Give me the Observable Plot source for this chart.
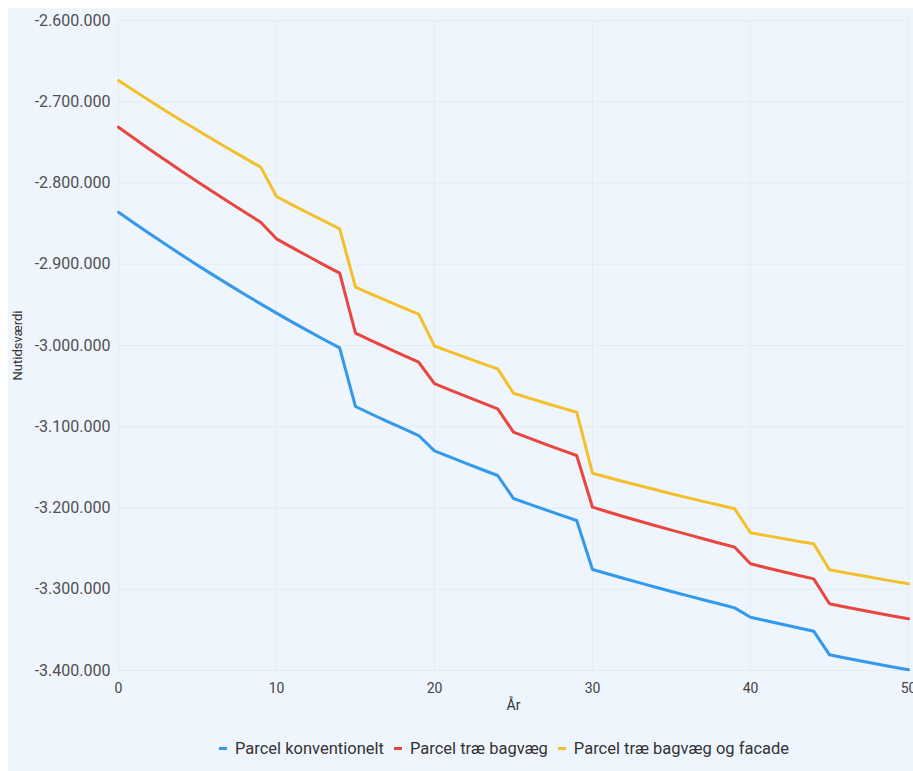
<!DOCTYPE html>
<html>
<head>
<meta charset="utf-8">
<script src="https://cdn.jsdelivr.net/npm/d3@7"></script>
<script src="https://cdn.jsdelivr.net/npm/@observablehq/plot@0.6"></script>
<style>
  html, body { margin: 0; padding: 0; background: #ffffff; }
  #panel {
    position: absolute; left: 8px; top: 8px; width: 905px; height: 763px;
    background: #eef5fc; overflow: hidden;
    font-family: Roboto, "Noto Sans", sans-serif;
  }
  #chart { position: absolute; left: 0; top: 0; }
  #legend {
    position: absolute; top: 731px; left: 496px; transform: translateX(-50%);
    display: flex; align-items: center; white-space: nowrap;
    font-size: 16.5px; color: #333;
  }
  #legend .item { display: flex; align-items: center; margin: 0 5px; }
  #legend .swatch { width: 8px; height: 3px; margin-right: 8px; }
</style>
</head>
<body>
<div id="panel">
  <div id="chart"></div>
  <div id="legend"></div>
</div>
<script>
// Years on the horizontal axis
const years = d3.range(0, 51);

// Series names and colours
const seriesNames = ["Parcel konventionelt", "Parcel træ bagvæg", "Parcel træ bagvæg og facade"];
const seriesColors = ["#3399ec", "#e8463f", "#f3c02b"];

// Net present value (DKK) per year, one array per building variant
const konventionelt = [
  -2836000, -2849500, -2862800, -2875800, -2888600, -2901100, -2913400, -2925400, -2937200, -2948800,
  -2960100, -2971200, -2982000, -2992600, -3002900, -3075100, -3084300, -3093300, -3102100, -3110800,
  -3129600, -3137500, -3145100, -3152600, -3160000, -3188300, -3195300, -3202100, -3208800, -3215400,
  -3275700, -3281300, -3286800, -3292200, -3297500, -3302700, -3307800, -3312900, -3317900, -3322900,
  -3334400, -3338800, -3343100, -3347400, -3351600, -3380700, -3384600, -3388400, -3392100, -3395700,
  -3399200
];
const traeBagvaeg = [
  -2731300, -2745300, -2759000, -2772400, -2785600, -2798500, -2811200, -2823700, -2836000, -2848200,
  -2868700, -2879600, -2890200, -2900700, -2911000, -2984800, -2994000, -3003000, -3011900, -3020600,
  -3046800, -3054800, -3062600, -3070300, -3077900, -3106700, -3114100, -3121300, -3128400, -3135400,
  -3199000, -3204900, -3210700, -3216300, -3221800, -3227200, -3232500, -3237800, -3243000, -3248200,
  -3268700, -3273500, -3278100, -3282700, -3287200, -3317900, -3321800, -3325600, -3329300, -3332900,
  -3336400
];
const traeBagvaegFacade = [
  -2673800, -2686600, -2699100, -2711300, -2723300, -2735100, -2746700, -2758100, -2769400, -2780500,
  -2816600, -2826900, -2836900, -2846700, -2856400, -2928200, -2936800, -2945100, -2953300, -2961400,
  -3000600, -3007900, -3015000, -3021900, -3028700, -3058700, -3064800, -3070700, -3076500, -3082100,
  -3157200, -3162500, -3167700, -3172700, -3177600, -3182400, -3187200, -3191800, -3196400, -3201000,
  -3230500, -3234000, -3237400, -3240800, -3244100, -3276100, -3279700, -3283200, -3286600, -3290000,
  -3293300
];

// Axis ticks
const xTicks = [0, 10, 20, 30, 40, 50];
const yTicks = [-3400000, -3300000, -3200000, -3100000, -3000000, -2900000, -2800000, -2700000, -2600000];

// Danish number format: dot as thousands separator
const da = d3.formatLocale({ decimal: ",", thousands: ".", grouping: [3], currency: ["", " kr."], minus: "-" });
const fmt = da.format(",.0f");

const seriesValues = [konventionelt, traeBagvaeg, traeBagvaegFacade];
const rows = seriesValues.flatMap((vals, s) =>
  vals.map((v, i) => ({ year: years[i], value: v, serie: seriesNames[s] }))
);

const chart = Plot.plot({
  width: 905,
  height: 712,
  marginLeft: 110,
  marginRight: 5,
  marginTop: 12,
  marginBottom: 50,
  style: { background: "transparent", fontFamily: "Roboto, 'Noto Sans', sans-serif", fontSize: "16px", color: "#505050" },
  x: { domain: [0, 50] },
  y: { domain: [-3400000, -2600000] },
  color: { domain: seriesNames, range: seriesColors },
  marks: [
    Plot.gridY(yTicks, { stroke: "#e4ecf5", strokeOpacity: 1 }),
    Plot.gridX(xTicks, { stroke: "#e4ecf5", strokeOpacity: 1 }),
    Plot.axisY(yTicks, { tickSize: 0, tickPadding: 8, tickFormat: fmt, label: "Nutidsværdi", labelAnchor: "center", labelArrow: "none", labelOffset: 106, fontSize: 16 }),
    Plot.axisX(xTicks, { tickSize: 0, tickPadding: 13, label: "År", labelAnchor: "center", labelArrow: "none", labelOffset: 39, fontSize: 14 }),
    Plot.line(rows, { x: "year", y: "value", z: "serie", stroke: "serie", strokeWidth: 3, strokeLinejoin: "round" })
  ]
});
document.getElementById("chart").appendChild(chart);

// Axis titles are set in a smaller size than the tick labels
d3.select(chart).selectAll('g[aria-label="y-axis label"] text').style("font-size", "13px").attr("fill", "#333");
d3.select(chart).selectAll('g[aria-label="x-axis label"] text').style("font-size", "14px").attr("fill", "#333");
d3.select(chart).selectAll('g[aria-label="x-axis tick label"] text').attr("fill", "#444");

// Legend below the chart
const legend = d3.select("#legend");
seriesNames.forEach((name, i) => {
  const item = legend.append("div").attr("class", "item");
  item.append("div").attr("class", "swatch").style("background", seriesColors[i]);
  item.append("span").text(name);
});
</script>
</body>
</html>
